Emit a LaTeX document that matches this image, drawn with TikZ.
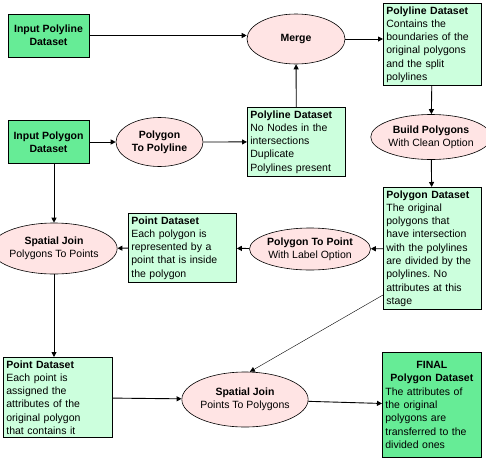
\documentclass[tikz,border=0pt]{standalone}
\usepackage{fontspec}
\setmainfont{Liberation Sans}
\usetikzlibrary{positioning, arrows.meta, shapes.geometric}

\definecolor{mint}{RGB}{204,255,221}
\definecolor{leaf}{RGB}{102,236,150}
\definecolor{blush}{RGB}{255,228,228}

\begin{document}
\begin{tikzpicture}[
    x=1pt, y=-1pt,
    font=\fontsize{10.5}{13.3}\selectfont,
    % Define styles for consistent blocks
    dataset/.style={rectangle, draw=black, line width=0.8pt, fill=mint, align=left, inner sep=3pt, text width=92pt},
    source/.style={rectangle, draw=black, line width=0.8pt, fill=leaf, align=center, font=\fontsize{10.5}{13.3}\selectfont\bfseries, minimum width=81pt, minimum height=43pt, inner sep=0pt},
    tool/.style={ellipse, draw=black, line width=0.6pt, fill=blush, align=center, inner sep=0pt},
    arrow/.style={-{Triangle[length=5pt, width=5pt]}, line width=0.9pt}
]
\useasboundingbox (0,0) rectangle (486,458);

% --- Nodes ---

% Inputs
\node[source] (inline) at (48.5,35.5) {Input Polyline\\Dataset};
\node[source] (ingon) at (48.5,142) {Input Polygon\\Dataset};

% Top row
\node[tool, minimum width=98pt, minimum height=50pt] (merge) at (296,39) {\textbf{Merge}};
\node[dataset, anchor=north west] (lines) at (383,3) {\textbf{Polyline Dataset}\\Contains the\\boundaries of the\\original polygons\\and the split\\polylines};

% Second row
\node[tool, minimum width=87pt, minimum height=49pt] (gon2line) at (159.5,142) {\textbf{Polygon}\\\textbf{To Polyline}};
\node[dataset, anchor=north west] (rawlines) at (247,107) {\textbf{Polyline Dataset}\\No Nodes in the\\intersections\\Duplicate\\Polylines present};
\node[tool, minimum width=93pt, minimum height=45pt] (build) at (431,137) {\textbf{Build Polygons}\\With Clean Option};

% Third row
\node[dataset, anchor=north west] (gons) at (383,187) {\textbf{Polygon Dataset}\\The original\\polygons that\\have intersection\\with the polylines\\are divided by the\\polylines.\ No\\attributes at this\\stage};
\node[tool, minimum width=104pt, minimum height=42pt] (gon2pt) at (310,249) {\textbf{Polygon To Point}\\With Label Option};
\node[dataset, anchor=north west, text width=102pt] (pts) at (128,213) {\textbf{Point Dataset}\\Each polygon is\\represented by a\\point that is inside\\the polygon};
\node[tool, minimum width=102pt, minimum height=51pt] (join1) at (54,248.5) {\textbf{Spatial Join}\\Polygons To Points};

% Bottom row
\node[dataset, anchor=north west, text width=103pt] (attrpts) at (3,357) {\textbf{Point Dataset}\\Each point is\\assigned the\\attributes of the\\original polygon\\that contains it};
\node[tool, minimum width=104pt, minimum height=55pt] (join2) at (245,399.5) {\textbf{Spatial Join}\\Points To Polygons};
\node[dataset, anchor=north west, fill=leaf, text width=93pt, minimum height=105pt] (final) at (382,352) {\centering\textbf{FINAL}\\\textbf{Polygon Dataset}\\\raggedright The attributes of\\the original\\polygons are\\transferred to the\\divided ones};

% --- Routing Arrows ---

% Polyline branch
\draw[arrow] (inline.east) -- (inline.east -| merge.west);
\draw[arrow] (ingon) -- (gon2line);
\draw[arrow] (gon2line) -- (rawlines);
\draw[arrow] (rawlines) -- (merge);
\draw[arrow] (merge.east) -- (merge.east -| lines.west);

% Polygon building
\draw[arrow] (lines) -- (build);
\draw[arrow] (build) -- (gons);
\draw[arrow] (gons) -- (gon2pt);
\draw[arrow] (gon2pt) -- (pts);
\draw[arrow] (pts) -- (join1);

% Attribute transfer
\draw[arrow] (ingon.south -| join1.north) -- (join1.north);
\draw[arrow] (join1.south) -- (join1.south |- attrpts.north);
\draw[arrow] (attrpts) -- (join2);
\draw[-{Triangle[length=5pt, width=5pt]}, thin] ([yshift=15pt]gons.south west) -- (join2.80);
\draw[arrow] (join2) -- (final);

\end{tikzpicture}
\end{document}
